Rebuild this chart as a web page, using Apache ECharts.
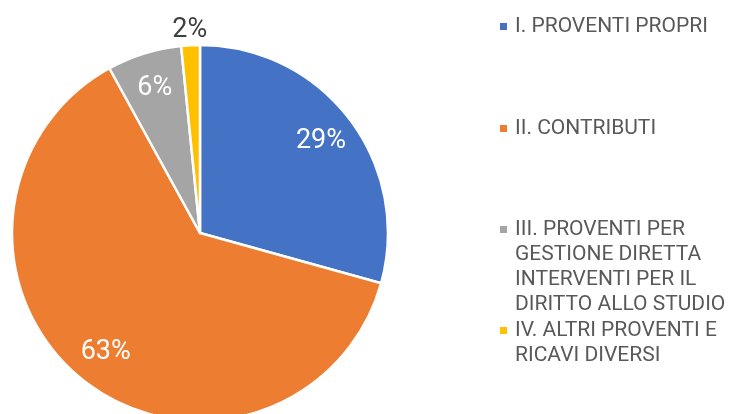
<!DOCTYPE html>
<html>
<head>
<meta charset="utf-8">
<script src="https://cdn.jsdelivr.net/npm/echarts@6/dist/echarts.min.js"></script>
<style>
  html, body { margin: 0; padding: 0; background: #fff; }
  #chart { width: 732px; height: 414px; }
</style>
</head>
<body>
<div id="chart"></div>
<script>
// categories (legend wraps as in the original)
const categories = [
  'I. PROVENTI PROPRI',
  'II. CONTRIBUTI',
  'III. PROVENTI PER\nGESTIONE DIRETTA\nINTERVENTI PER IL\nDIRITTO ALLO STUDIO',
  'IV. ALTRI PROVENTI E\nRICAVI DIVERSI'
]
// share of total, %
const shares = [29.3, 62.7, 6.4, 1.6]
const colors = ['#4472C4', '#ED7D31', '#A5A5A5', '#FFC000']

const center = [200, 233]
const R = 188
const font = 'Roboto, "Liberation Sans", sans-serif'

const pieData = categories.map((name, i) => ({ name: name, value: shares[i] }))
const pct = p => Math.round(p.percent) + '%'

// one legend per item, so the uneven spacing can be kept.
// the marker is drawn in the rich text so it sits on the first line
const legendTops = [14, 116, 217, 318]
const legends = categories.map((name, i) => {
  const rich = {
    t: { fontFamily: font, fontSize: 21, lineHeight: 25, color: '#595959', padding: [0, 0, 0, 8] },
    s: { width: 7, height: 7 }
  }
  rich['m' + i] = { width: 7, height: 7, backgroundColor: colors[i] }
  return {
    data: [name],
    orient: 'vertical',
    left: 494,
    top: legendTops[i],
    padding: 0,
    icon: 'rect',
    itemWidth: 0,
    itemHeight: 0,
    selectedMode: false,
    formatter: n => n.split('\n')
      .map((line, j) => (j === 0 ? '{m' + i + '|}' : '{s|}') + '{t|' + line + '}')
      .join('\n'),
    textStyle: { lineHeight: 25, rich: rich }
  }
})

const chart = echarts.init(document.getElementById('chart'), null, { renderer: 'canvas' })
chart.setOption({
  animation: false,
  color: colors,
  legend: legends,
  series: [
    {
      type: 'pie',
      center: center,
      radius: R,
      startAngle: 90,
      clockwise: true,
      itemStyle: { borderColor: '#fff', borderWidth: 2.5 },
      label: { show: false },
      labelLine: { show: false },
      emphasis: { disabled: true },
      data: pieData
    },
    {
      // transparent overlay only used to place the inner labels
      type: 'pie',
      center: center,
      radius: [110, R],
      startAngle: 90,
      silent: true,
      itemStyle: { color: 'rgba(0,0,0,0)' },
      label: {
        show: true,
        position: 'inside',
        formatter: pct,
        color: '#fff',
        fontFamily: font,
        fontSize: 27
      },
      labelLine: { show: false },
      emphasis: { disabled: true },
      data: pieData.map((d, i) => i === 3 ? { ...d, label: { show: false } } : d)
    },
    {
      // overlay outside the pie for the small slice label
      type: 'pie',
      center: center,
      radius: [R, R + 24],
      startAngle: 90,
      silent: true,
      itemStyle: { color: 'rgba(0,0,0,0)' },
      label: {
        show: false,
        position: 'inside',
        formatter: pct,
        color: '#404040',
        fontFamily: font,
        fontSize: 27
      },
      labelLine: { show: false },
      emphasis: { disabled: true },
      data: pieData.map((d, i) => i === 3 ? { ...d, label: { show: true } } : d)
    }
  ]
})
</script>
</body>
</html>
